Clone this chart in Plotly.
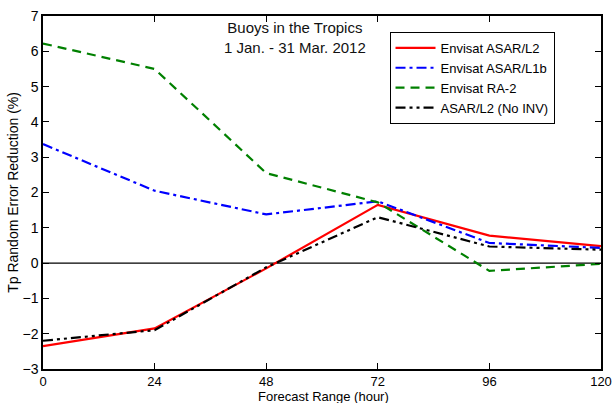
import plotly.graph_objects as go

hours = [0, 24, 48, 72, 96, 120]
asar_l2 = [-2.35, -1.85, -0.15, 1.65, 0.78, 0.48]
asar_l1b = [3.37, 2.05, 1.38, 1.75, 0.57, 0.43]
ra2 = [6.22, 5.5, 2.55, 1.72, -0.22, -0.02]
asar_noinv = [-2.2, -1.9, -0.12, 1.3, 0.47, 0.38]

series = [
    ("Envisat ASAR/L2", asar_l2, "#ff0000", "solid"),
    ("Envisat ASAR/L1b", asar_l1b, "#0000ff", "10px,4px,3px,4px"),
    ("Envisat RA-2", ra2, "#008000", "9px,6px"),
    ("ASAR/L2 (No INV)", asar_noinv, "#000000", "10px,4px,3px,4px,3px,4px"),
]

fig = go.Figure()
for name, vals, color, dash in series:
    fig.add_trace(go.Scatter(x=hours, y=vals, mode="lines", name=name,
                             line=dict(color=color, width=2.2, dash=dash)))

fig.add_shape(type="line", xref="x", yref="y", x0=0, x1=120, y0=0, y1=0,
              line=dict(color="black", width=1.2), layer="below")

fig.add_annotation(text="Buoys in the Tropics<br>1 Jan. - 31 Mar. 2012",
                   xref="paper", yref="paper", x=0.452, y=0.94,
                   xanchor="center", yanchor="middle", showarrow=False,
                   font=dict(size=15, color="#111"))

# axis titles
fig.add_annotation(text="Forecast Range (hour)", xref="paper", yref="paper",
                   x=0.502, y=-0.077, xanchor="center", yanchor="middle",
                   showarrow=False, font=dict(size=13))
fig.add_annotation(text="Tp Random Error Reduction (%)", xref="paper", yref="paper",
                   x=-0.055, y=0.5, xanchor="center", yanchor="middle", textangle=-90,
                   showarrow=False, font=dict(size=14))

axis_common = dict(showline=True, linecolor="black", linewidth=1.5, mirror="ticks",
                   ticks="inside", ticklen=6, tickcolor="black", tickwidth=1,
                   showgrid=False, zeroline=False, automargin=False)

fig.update_layout(
    width=614, height=403,
    margin=dict(l=43, r=13, t=16, b=34),
    paper_bgcolor="white", plot_bgcolor="white",
    font=dict(family="Liberation Sans, Arial, sans-serif", color="black"),
    xaxis=dict(range=[0, 120], tickvals=hours, ticktext=[str(h) for h in hours],
               tickfont=dict(size=13, color="black"), **axis_common),
    yaxis=dict(range=[-3, 7], dtick=1, tickfont=dict(size=14, color="black"), **axis_common),
    legend=dict(x=0.621, y=0.955, xanchor="left", yanchor="top",
                bgcolor="white", bordercolor="black", borderwidth=1,
                font=dict(size=13), tracegroupgap=0, itemwidth=40),
    showlegend=True,
)

fig.write_html("out.html", config={"displayModeBar": False},
               post_script="document.body.style.margin='0px';")
